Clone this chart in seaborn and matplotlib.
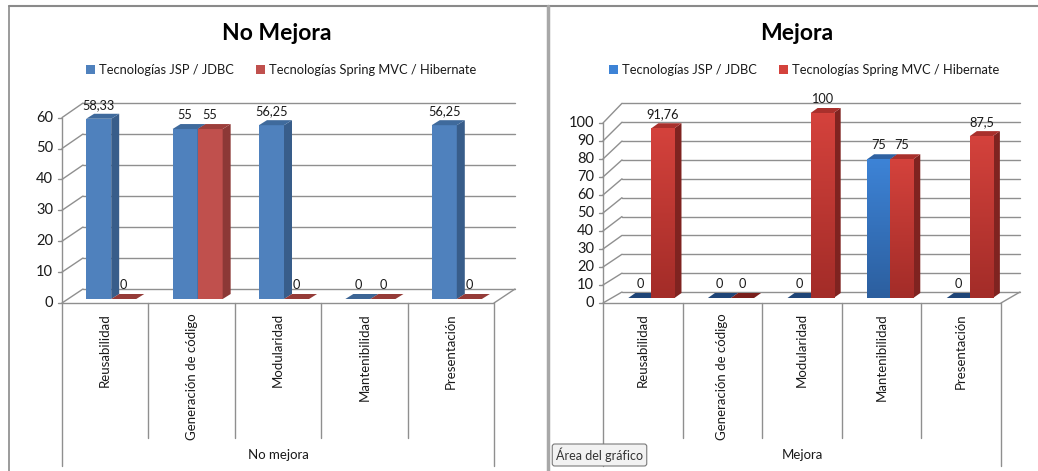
import numpy as np
import pandas as pd
import matplotlib
matplotlib.use("Agg")
import matplotlib.pyplot as plt
import seaborn as sns
from matplotlib.lines import Line2D
from matplotlib.patches import Polygon
from matplotlib.transforms import Affine2D, ScaledTranslation
from matplotlib.colors import LinearSegmentedColormap

# ---- data -------------------------------------------------------------
categories = ["Reusabilidad", "Generación de código", "Modularidad",
              "Mantenibilidad", "Presentación"]
series_names = ["Tecnologías JSP / JDBC", "Tecnologías Spring MVC / Hibernate"]

no_mejora_jsp = [58.33, 55, 56.25, 0, 56.25]
no_mejora_spring = [0, 55, 0, 0, 0]

mejora_jsp = [0, 0, 0, 75, 0]
mejora_spring = [91.76, 0, 100, 75, 87.5]

no_mejora_ticks = [0, 10, 20, 30, 40, 50, 60]
mejora_ticks = [0, 10, 20, 30, 40, 50, 60, 70, 80, 90, 100]

# ---- style ------------------------------------------------------------
sns.set_theme(style="white")
FONT = ["Lato", "DejaVu Sans"]
plt.rcParams["font.family"] = FONT
TXT = "#1a1a1a"
GRID = "#8f8f8f"

W, H = 1038, 471
fig = plt.figure(figsize=(W / 100, H / 100), dpi=100)
fig.patch.set_facecolor("white")


def frac(x, y):
    """pixel position (from top-left) -> figure fraction"""
    return x / W, 1 - y / H


def long_frame(jsp, spring):
    return pd.DataFrame({
        "cat": categories * 2,
        "serie": [series_names[0]] * len(categories) + [series_names[1]] * len(categories),
        "valor": list(jsp) + list(spring),
    })


def fmt(v):
    return f"{v:g}".replace(".", ",")


def make_panel(jsp, spring, ticks, ymax, box, front, back, depth,
               colors, gradient, title, title_x, legend_x, group):
    x0, x1, yb, yt = box
    l, b = frac(x0, yb)
    ax = fig.add_axes([l, b, (x1 - x0) / W, (yb - yt) / H])
    df = long_frame(jsp, spring)
    sns.barplot(data=df, x="cat", y="valor", hue="serie", order=categories,
                hue_order=series_names, palette=[c["front"] for c in colors],
                width=0.58, saturation=1, linewidth=0, ax=ax, legend=True)
    ax.set_xlim(-0.5, len(categories) - 0.5)
    ax.set_ylim(0, ymax)
    ax.axis("off")
    handles, labels = ax.get_legend_handles_labels()
    ax.get_legend().remove()

    inv = ax.transData.inverted()

    def plane(off):
        dx, dy, sy = off
        return (Affine2D().scale(1, sy) + ax.transData +
                ScaledTranslation(dx / 100, dy / 100, fig.dpi_scale_trans))

    ftr, btr = plane(front), plane(back)

    def d(tr, pts):
        return inv.transform(tr.transform(pts))

    def line(pts, **kw):
        pts = np.asarray(pts)
        ax.add_line(Line2D(pts[:, 0], pts[:, 1], color=GRID, lw=1.0,
                           clip_on=False, zorder=1, **kw))

    xa, xb = -0.5, len(categories) - 0.5
    # back wall grid, side wall grid, tick marks and tick labels
    for t in ticks:
        bl, br = d(btr, [(xa, t), (xb, t)])
        fl = d(ftr, [(xa, t)])[0]
        line([bl, br])
        line([fl, bl])
        fd = ftr.transform((xa, t))
        line(inv.transform([fd + (-4, 0), fd]))
        tx, ty = inv.transform(fd + (-9, 0))
        ax.text(tx, ty, str(t), ha="right", va="center", fontsize=10.5,
                color=TXT, clip_on=False)
    # front vertical axis
    line(d(ftr, [(xa, 0), (xa, ymax)]))
    # floor
    fl0, fr0 = d(ftr, [(xa, 0), (xb, 0)])
    br0 = d(btr, [(xb, 0)])[0]
    line([fl0, fr0])
    line([fr0, br0])

    # category axis box below the floor
    for i in range(len(categories) + 1):
        xe = xa + i
        top = ftr.transform((xe, 0))
        depth_px = 163 if i in (0, len(categories)) else 135
        line(inv.transform([top, top + (0, -depth_px)]))
    for i, c in enumerate(categories):
        p = ftr.transform((i, 0)) + (0, -10)
        tx, ty = inv.transform(p)
        ax.text(tx, ty, c, rotation=90, ha="center", va="top", fontsize=9.5,
                color=TXT, clip_on=False)
    mid = ftr.transform(((xa + xb) / 2, 0)) + (0, -152)
    tx, ty = inv.transform(mid)
    ax.text(tx, ty, group, ha="center", va="center", fontsize=9.5,
            color=TXT, clip_on=False)

    # 3-D faces for every bar
    bars = [p for p in ax.patches if p.get_width() > 0]
    bars.sort(key=lambda p: p.get_x())
    dvec = np.array(depth)
    for k, p in enumerate(bars):
        hue_i = 0 if np.allclose(p.get_facecolor()[:3],
                                 matplotlib.colors.to_rgb(colors[0]["front"])) else 1
        col = colors[hue_i]
        z = 3 + k * 0.1
        px, pw, ph = p.get_x(), p.get_width(), p.get_height()
        BL, BR, TL, TR = ax.transData.transform(
            [(px, 0), (px + pw, 0), (px, ph), (px + pw, ph)])
        if ph > 0:
            side = inv.transform([BR, TR, TR + dvec, BR + dvec])
            topf = inv.transform([TL, TR, TR + dvec, TL + dvec])
            ax.add_patch(Polygon(side, closed=True, fc=col["side"], ec="none",
                                 zorder=z, clip_on=False))
            ax.add_patch(Polygon(topf, closed=True, fc=col["top"], ec="none",
                                 zorder=z, clip_on=False))
            p.set_zorder(z)
            if gradient:
                cmap = LinearSegmentedColormap.from_list(
                    "g", [col["bottom"], col["front"]])
                im = ax.imshow(np.linspace(0, 1, 64).reshape(-1, 1)[::-1],
                               extent=[px, px + pw, 0, ph], aspect="auto",
                               cmap=cmap, zorder=z, interpolation="bilinear",
                               origin="upper")
                im.set_clip_path(p)
        else:
            flat = inv.transform([BL, BR, BR + dvec, BL + dvec])
            ax.add_patch(Polygon(flat, closed=True, fc=col["flat"], ec="none",
                                 zorder=z, clip_on=False))
        # value label
        lab = ax.transData.transform((px + pw / 2, ph)) + (0, 14)
        tx, ty = inv.transform(lab)
        ax.text(tx, ty, fmt(ph), ha="center", va="center", fontsize=9.2,
                color=TXT, zorder=10, clip_on=False)
    ax.set_xlim(-0.5, len(categories) - 0.5)
    ax.set_ylim(0, ymax)

    # title and legend
    tx, ty = frac(title_x, 33)
    fig.text(tx, ty, title, ha="center", va="center", fontsize=16.5,
             fontweight="bold", color="black")
    lx, ly = frac(legend_x, 70)
    fig.legend(handles, labels, loc="center", bbox_to_anchor=(lx, ly),
               ncol=2, frameon=False, fontsize=9.3, handlelength=0.7,
               handleheight=0.7, handletextpad=0.3, columnspacing=1.7,
               labelcolor=TXT)
    return ax


left_colors = [
    dict(front="#4f81bd", side="#385d8a", top="#3f6a9c", flat="#3c6595"),
    dict(front="#c0504d", side="#8c3836", top="#9c3e3b", flat="#953b38"),
]
right_colors = [
    dict(front="#3d83d6", bottom="#2c5f9f", side="#25497a", top="#2f62a2", flat="#1f4577"),
    dict(front="#d4423c", bottom="#a32c28", side="#7f2320", top="#a9302c", flat="#7a1f1c"),
]

make_panel(no_mejora_jsp, no_mejora_spring, no_mejora_ticks, 60,
           box=(68, 500, 299, 299 - 60 * 3.09),
           front=(-6, -4, 1.0), back=(15, 10, 1.003), depth=(8, 5),
           colors=left_colors, gradient=False, title="No Mejora",
           title_x=277, legend_x=281, group="No mejora")

make_panel(mejora_jsp, mejora_spring, mejora_ticks, 100,
           box=(611.6, 1009.6, 298, 113),
           front=(-8.6, -5, 0.973), back=(10.4, 6, 1.02), depth=(7, 5),
           colors=right_colors, gradient=True, title="Mejora",
           title_x=797, legend_x=804, group="Mejora")

# outer chart frames
frame = "#8a8a8a"
fig.add_artist(Line2D([9 / W, 1], [1 - 6 / H] * 2, color=frame, lw=1.5,
                      transform=fig.transFigure))
fig.add_artist(Line2D([9 / W] * 2, [0, 1 - 6 / H], color=frame, lw=1.2,
                      transform=fig.transFigure))
fig.add_artist(Line2D([548 / W] * 2, [0, 1 - 6 / H], color="#a8a8a8", lw=2.5,
                      transform=fig.transFigure))

# hover hint box
hx, hy = frac(556, 455)
fig.text(hx, hy, "Área del gráfico", ha="left", va="center", fontsize=9,
         color="#333333",
         bbox=dict(boxstyle="round,pad=0.3,rounding_size=0.2", fc="#f2f2f2",
                   ec="#7a7a7a", lw=0.8))

fig.savefig("out.png", dpi=100)
